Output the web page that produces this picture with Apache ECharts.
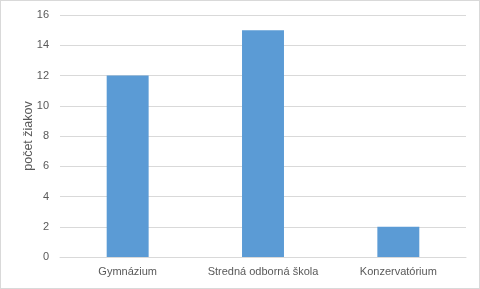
<!DOCTYPE html>
<html><head><meta charset="utf-8">
<script src="https://cdn.jsdelivr.net/npm/echarts@6/dist/echarts.min.js"></script>
<style>html,body{margin:0;padding:0;background:#fff}#c{width:480px;height:289px;box-sizing:border-box;border:1px solid #d9d9d9}</style>
</head><body><div id="c"></div>
<script>
const categories = ['Gymnázium', 'Stredná odborná škola', 'Konzervatórium'];
const values = [12, 15, 2];
const yName = 'počet žiakov';
const chart = echarts.init(document.getElementById('c'));
chart.setOption({
  animation: false,
  grid: {left: 59, right: 13, top: 14, bottom: 31},
  xAxis: {
    type: 'category', data: categories,
    axisLine: {lineStyle: {color: '#d9d9d9'}},
    axisTick: {show: false},
    axisLabel: {color: '#595959', fontFamily: 'Liberation Sans', fontSize: 11, margin: 9, interval: 0}
  },
  yAxis: {
    type: 'value', min: 0, max: 16, interval: 2,
    name: yName, nameLocation: 'middle', nameGap: 25, nameMoveOverlap: false,
    nameTextStyle: {color: '#595959', fontFamily: 'Liberation Sans', fontSize: 12.5},
    axisLine: {show: false}, axisTick: {show: false},
    axisLabel: {color: '#595959', fontFamily: 'Liberation Sans', fontSize: 11, margin: 11},
    splitLine: {lineStyle: {color: '#d9d9d9'}}
  },
  series: [{type: 'bar', data: values, barWidth: '31%', itemStyle: {color: '#5b9bd5'}}]
});
</script></body></html>
